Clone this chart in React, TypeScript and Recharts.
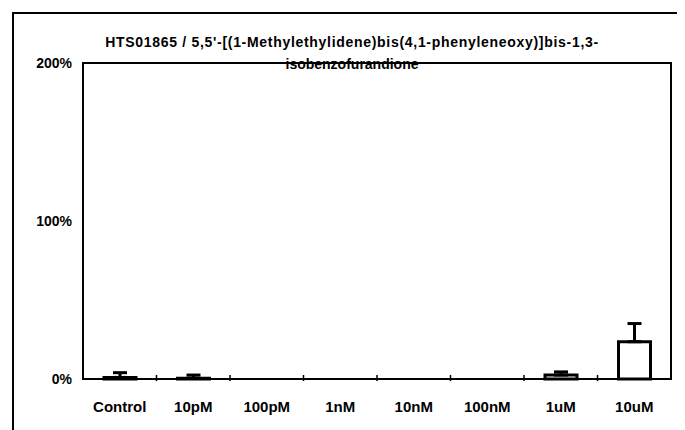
import React from "react";
import { BarChart, Bar, XAxis, YAxis, ErrorBar } from "recharts";

const categories = ["Control", "10pM", "100pM", "1nM", "10nM", "100nM", "1uM", "10uM"];
const means = [1, 0.5, 0, 0, 0, 0, 2.5, 23.6];
const errors = [3, 2, 0, 0, 0, 0, 2, 11.5];
const yTicks = [0, 100, 200];

const title1 = "HTS01865 / 5,5'-[(1-Methylethylidene)bis(4,1-phenyleneoxy)]bis-1,3-";
const title2 = "isobenzofurandione";

const data = categories.map((name, i) => ({
  name,
  value: means[i],
  err: [0, errors[i]],
}));

const font = "'Liberation Sans', Arial, sans-serif";

// category label plus a small tick at the left band boundary
const CategoryTick = (props: any) => {
  const { x, y, payload, index } = props;
  const half = payload && payload.offset ? payload.offset : 36.75;
  return (
    <g>
      {index > 0 && (
        <line x1={x - half} x2={x - half} y1={y} y2={y - 6} stroke="#000" strokeWidth={1.5} />
      )}
      <text
        x={x}
        y={y + 20}
        dy="0.71em"
        textAnchor="middle"
        fill="#000"
        fontSize={15}
        fontWeight="bold"
        fontFamily={font}
      >
        {payload.value}
      </text>
    </g>
  );
};

const App: React.FC = () => {
  return (
    <div style={{ position: "relative", width: 677, height: 422, fontFamily: font }}>
      {/* outer frame */}
      <div
        style={{
          position: "absolute",
          left: 4,
          top: 4,
          width: 673,
          height: 418,
          borderLeft: "2px solid #000",
          borderTop: "2px solid #000",
          boxSizing: "border-box",
        }}
      />
      {/* plot frame */}
      <div
        style={{
          position: "absolute",
          left: 74,
          top: 54,
          width: 590,
          height: 318,
          border: "2px solid #000",
          boxSizing: "border-box",
          zIndex: 1,
          pointerEvents: "none",
        }}
      />
      <div
        style={{
          position: "absolute",
          left: 11,
          width: 666,
          top: 23,
          textAlign: "center",
          fontSize: 14,
          fontWeight: "bold",
          lineHeight: "22px",
          color: "#000",
          zIndex: 2,
        }}
      >
        <div style={{ letterSpacing: 0.7 }}>{title1}</div>
        <div>{title2}</div>
      </div>
      <BarChart
        width={677}
        height={422}
        data={data}
        margin={{ top: 55, right: 14, left: 15, bottom: 21 }}
        barSize={32}
        style={{ position: "absolute", left: 0, top: 0 }}
      >
        <XAxis
          dataKey="name"
          tickLine={false}
          tickSize={0}
          axisLine={{ stroke: "#000", strokeWidth: 2 }}
          height={30}
          tick={<CategoryTick />}
          interval={0}
        />
        <YAxis
          domain={[0, 200]}
          ticks={yTicks}
          tickFormatter={(v: number) => `${v}%`}
          tickLine={false}
          tickSize={0}
          tickMargin={11}
          width={60}
          axisLine={{ stroke: "#000", strokeWidth: 2 }}
          tick={{ fill: "#000", fontSize: 14, fontWeight: "bold", fontFamily: font }}
        />
        <Bar dataKey="value" fill="#fff" stroke="#000" strokeWidth={3} isAnimationActive={false}>
          <ErrorBar dataKey="err" width={7} stroke="#000" strokeWidth={3} direction="y" />
        </Bar>
      </BarChart>
    </div>
  );
};

export default App;
